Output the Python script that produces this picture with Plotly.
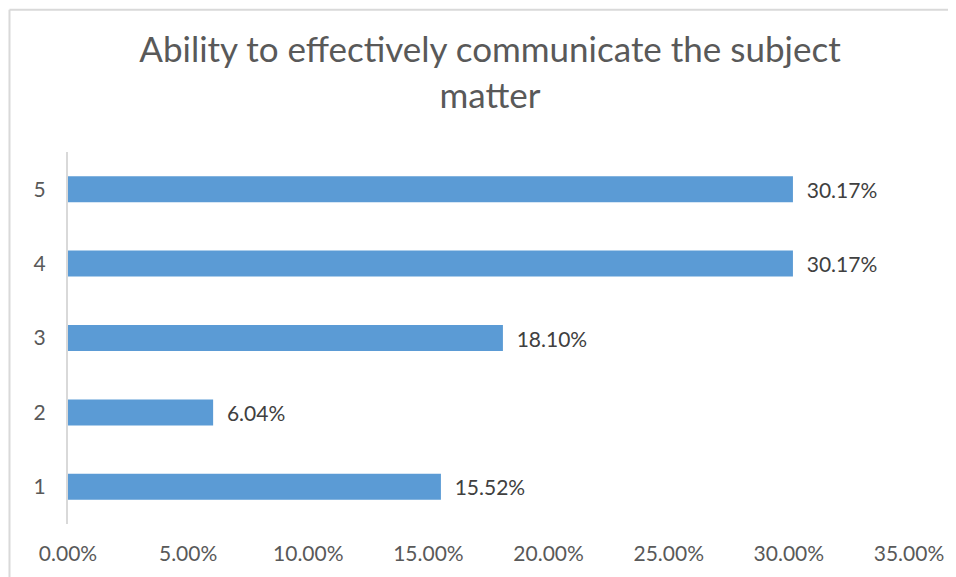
import plotly.graph_objects as go

categories = ["1", "2", "3", "4", "5"]
values = [15.52, 6.04, 18.10, 30.17, 30.17]
x_ticks = [0, 5, 10, 15, 20, 25, 30, 35]
x_tick_labels = ["0.00%", "5.00%", "10.00%", "15.00%", "20.00%", "25.00%", "30.00%", "35.00%"]
title_text = "Ability to effectively communicate the subject<br>matter"

FONT = "Lato"
OFF = 8  # browser body margin

W, H = 956 - OFF, 577 - OFF
L, R, T, B = 68 - OFF, 48 - OFF, 152 - OFF, 55 - OFF
pw, ph = W - L - R, H - T - B
def px_x(p):  # screen px -> paper
    return (p - OFF - L) / pw
def px_y(p):
    return (H - B - (p - OFF)) / ph

fig = go.Figure()
fig.add_trace(go.Bar(
    y=categories, x=values, orientation="h",
    marker=dict(color="#5B9BD5", line=dict(width=0)),
    texttemplate="\u00a0\u00a0%{x:.2f}%", textposition="outside",
    textfont=dict(family=FONT, size=21, color="#404040"),
    cliponaxis=False,
))

fig.update_layout(
    width=W, height=H,
    margin=dict(l=L, r=R, t=T, b=B),
    paper_bgcolor="white", plot_bgcolor="white",
    showlegend=False,
    bargap=0.65,
    title=dict(text=title_text, x=(490 - OFF) / W, xanchor="center", y=1 - 54 / H, yanchor="top",
               font=dict(family=FONT, size=35, color="#595959")),
    xaxis=dict(range=[0, 35], tickvals=x_ticks, ticktext=x_tick_labels,
               showgrid=False, zeroline=False, showline=False, ticks="",
               ticklabelstandoff=15,
               tickfont=dict(family=FONT, size=21, color="#595959")),
    yaxis=dict(categoryorder="array", categoryarray=categories,
               showgrid=False, zeroline=False, showline=True, linecolor="#D9D9D9", linewidth=2,
               ticks="", ticklabelstandoff=16,
               tickfont=dict(family=FONT, size=21, color="#595959")),
    shapes=[
        dict(type="line", xref="paper", yref="paper", x0=px_x(9), x1=px_x(9), y0=px_y(600), y1=px_y(7.5),
             line=dict(color="#D9D9D9", width=2)),
        dict(type="line", xref="paper", yref="paper", x0=px_x(9), x1=px_x(980), y0=px_y(7.5), y1=px_y(7.5),
             line=dict(color="#D9D9D9", width=2)),
    ],
)

fig.write_html("out.html")
